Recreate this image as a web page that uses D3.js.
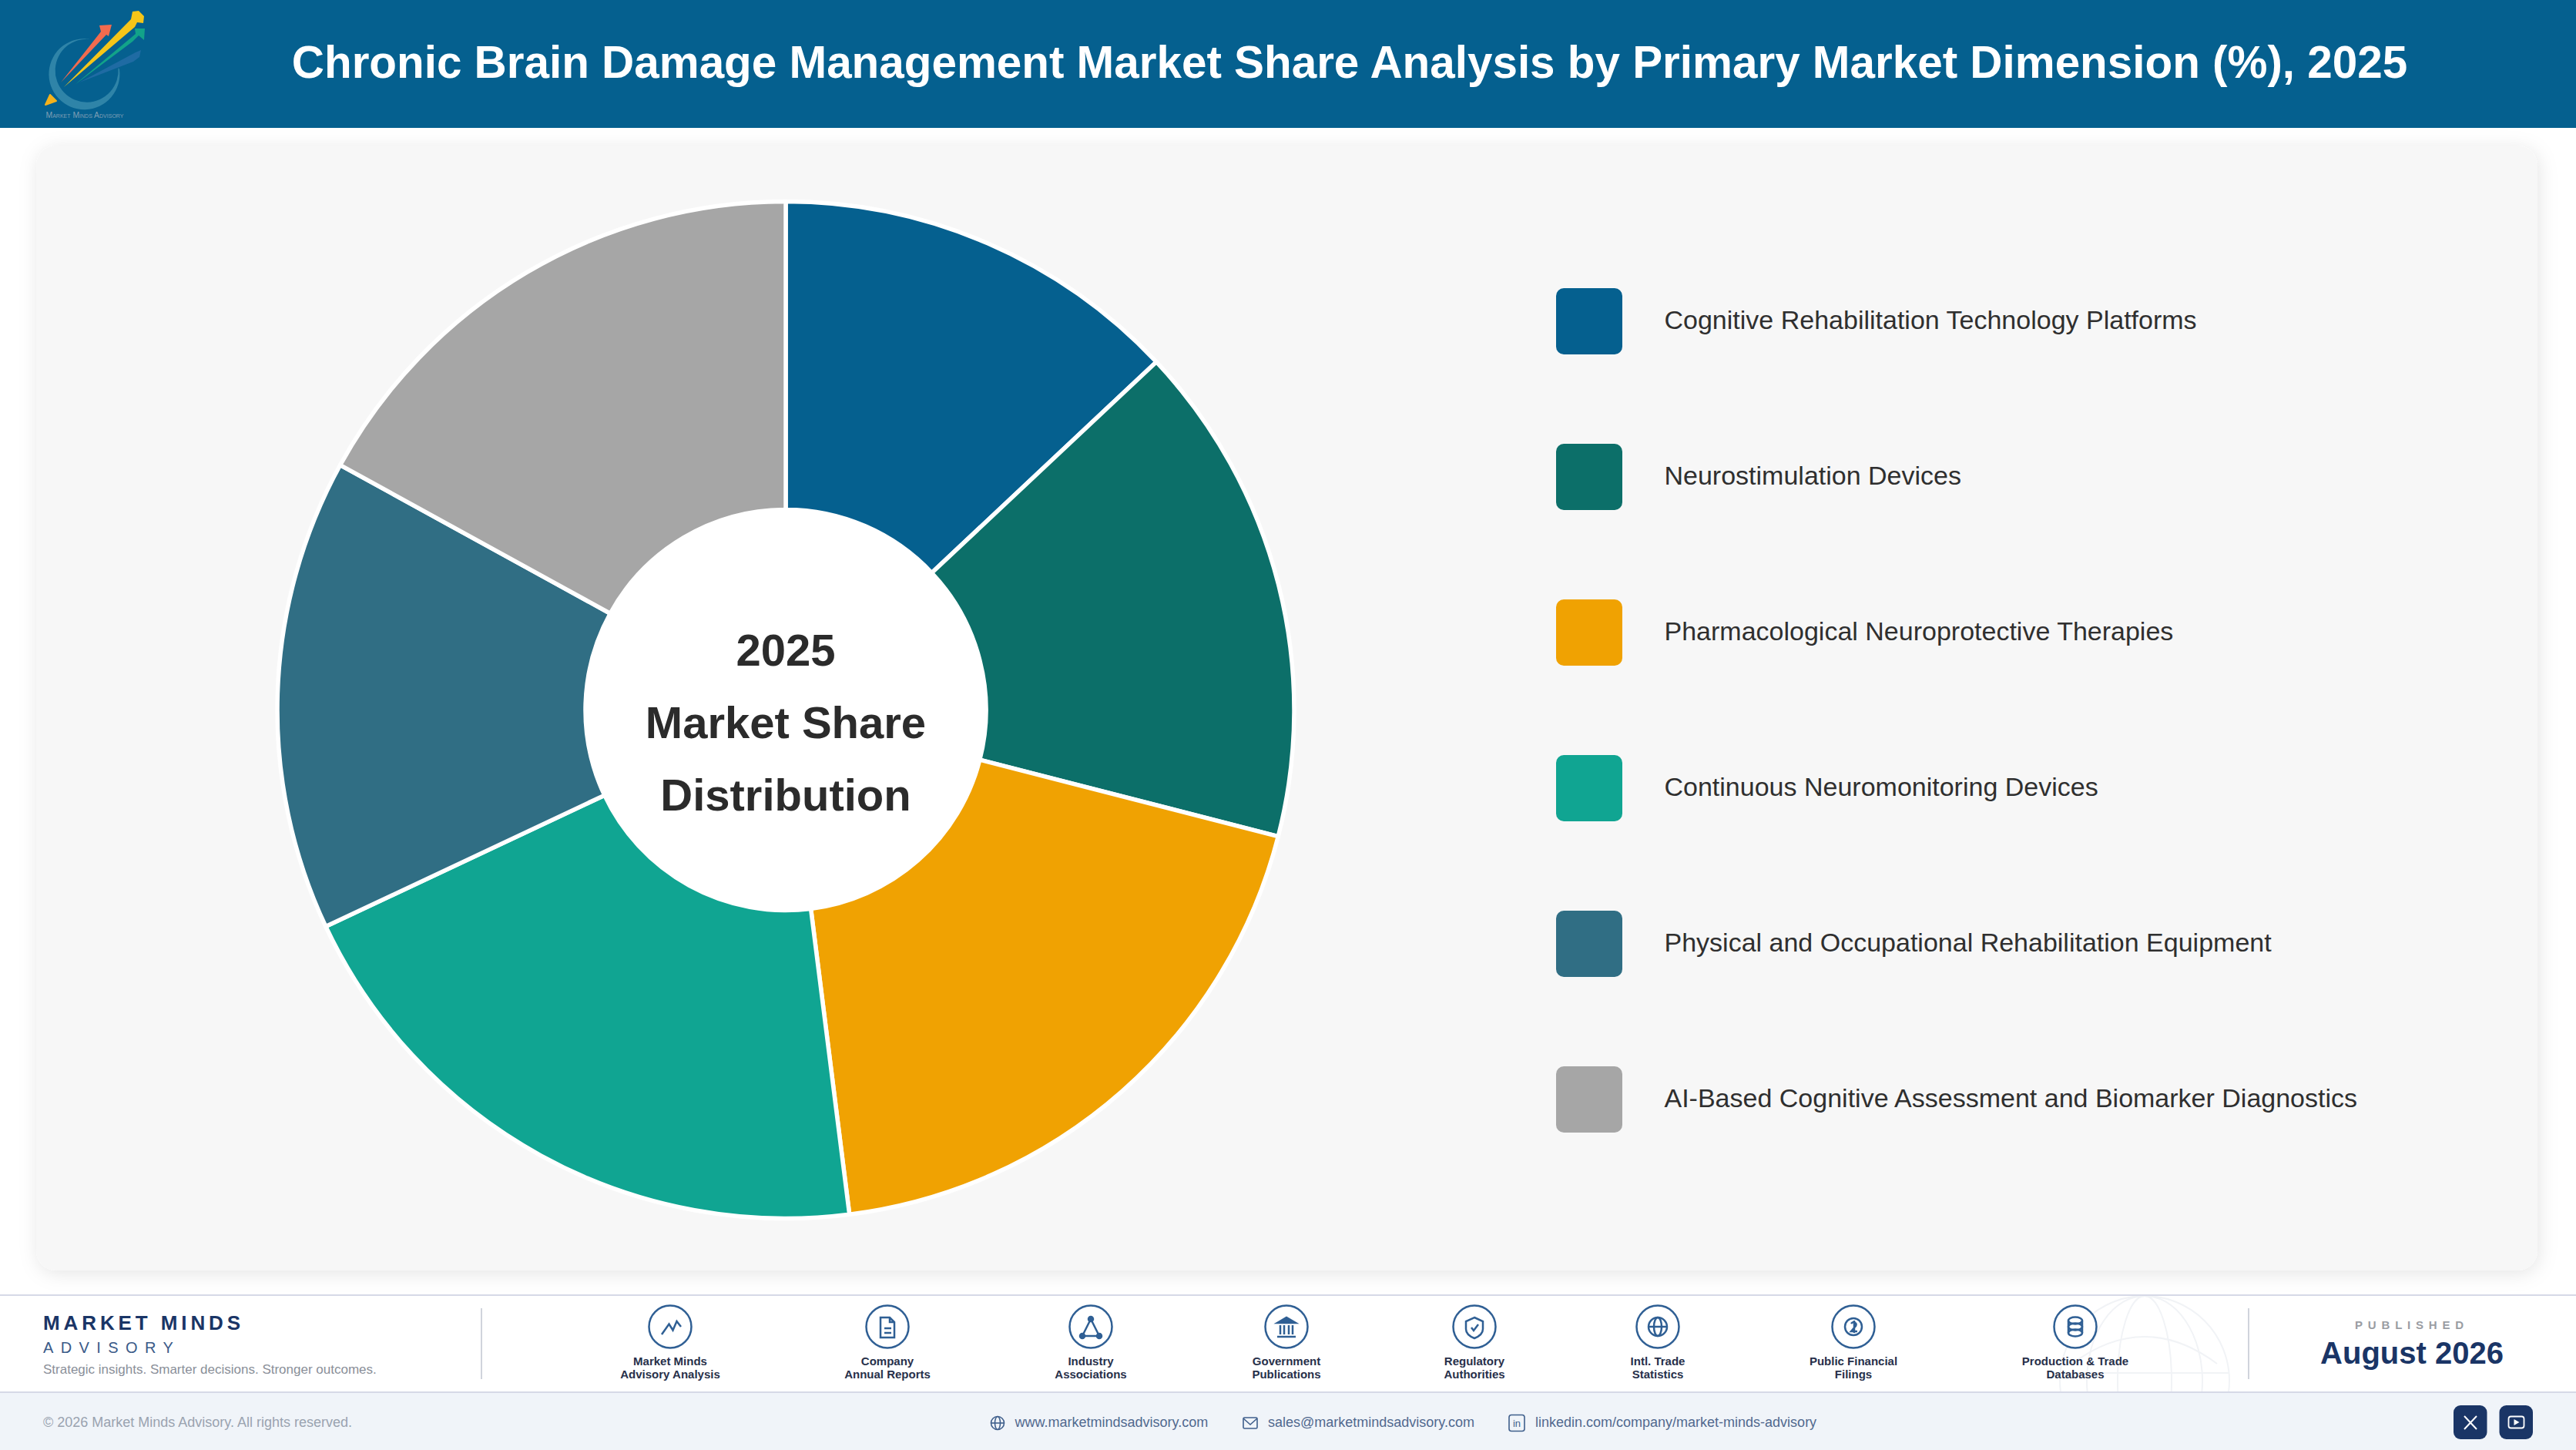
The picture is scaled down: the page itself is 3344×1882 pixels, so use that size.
<!DOCTYPE html>
<html>
<head>
<meta charset="utf-8">
<script src="https://cdnjs.cloudflare.com/ajax/libs/d3/7.8.5/d3.min.js"></script>
<style>
  html,body{margin:0;padding:0;background:#fff}
  svg{display:block}
  text{font-family:"Liberation Sans",Arial,sans-serif}
</style>
</head>
<body>
<div id="chart"></div>
<script>
const TITLE = 'Chronic Brain Damage Management Market Share Analysis by Primary Market Dimension (%), 2025';
const categories = [
  'Cognitive Rehabilitation Technology Platforms',
  'Neurostimulation Devices',
  'Pharmacological Neuroprotective Therapies',
  'Continuous Neuromonitoring Devices',
  'Physical and Occupational Rehabilitation Equipment',
  'AI-Based Cognitive Assessment and Biomarker Diagnostics'
];
const shares = [13, 16, 19, 20, 15, 17];
const sliceColors = ['#05608f', '#0c6f69', '#f0a202', '#10a592', '#306e84', '#a6a6a6'];
const centerLines = ['2025', 'Market Share', 'Distribution'];
const sourceLabels = [
  ['Market Minds', 'Advisory Analysis'], ['Company', 'Annual Reports'], ['Industry', 'Associations'],
  ['Government', 'Publications'], ['Regulatory', 'Authorities'], ['Intl. Trade', 'Statistics'],
  ['Public Financial', 'Filings'], ['Production & Trade', 'Databases']
];
const sourceX = [870, 1152, 1416, 1670, 1914, 2152, 2406, 2694];
const sourceIcons = ['spark', 'doc', 'tri', 'bank', 'shield', 'globe', 'coin', 'db'];

const W = 3344, H = 1882;
const NAVY = '#1a3566', ICON = '#2f5f94';
const svg = d3.select('#chart').append('svg').attr('width', W).attr('height', H).attr('viewBox', `0 0 ${W} ${H}`);

const defs = svg.append('defs');
const shadow = defs.append('filter').attr('id', 'card-shadow').attr('x', '-5%').attr('y', '-5%').attr('width', '110%').attr('height', '110%');
shadow.append('feDropShadow').attr('dx', 2).attr('dy', 4).attr('stdDeviation', 12).attr('flood-color', '#000').attr('flood-opacity', 0.1);
defs.append('clipPath').attr('id', 'foot-clip').append('rect').attr('x', 0).attr('y', 1682).attr('width', W).attr('height', 125);

// page header
svg.append('rect').attr('width', W).attr('height', 166).attr('fill', '#05608f');
svg.append('text').attr('x', 1752).attr('y', 101).attr('text-anchor', 'middle').attr('font-size', 58.4)
  .attr('font-weight', 700).attr('fill', '#fff').text(TITLE);

// logo
const logo = svg.append('g');
logo.append('path').attr('fill', '#2f84a8')
  .attr('d', 'M118 51 A46 46 0 1 0 155 90 L153.5 88 A41 41 0 1 1 118 51 Z');
logo.append('path').attr('fill', '#1f6ba3').attr('d', 'M103 107 L176 68 L183 65 L181 74 L173 80 Z');
logo.append('path').attr('fill', '#f26b4e').attr('d', 'M79 107 L131 41 L129 33 L145 32 L141 47 L138 45 Z');
logo.append('path').attr('fill', '#f5c518').attr('d', 'M83 113 L170 25 L172 15 L180 14 L187 21 L186 30 L178 29 L175 35 Z');
logo.append('path').attr('fill', '#12a389').attr('d', 'M97 110 L176 44 L175 37 L188 37 L187 52 L180 46 L172 54 Z');
logo.append('path').attr('fill', '#f5b21c').attr('stroke', '#f5b21c').attr('stroke-width', 2).attr('stroke-linejoin', 'round').attr('d', 'M59 136 L65 123 L73 131 Z');
logo.append('text').attr('x', 110).attr('y', 153).attr('text-anchor', 'middle').attr('font-size', 10.4)
  .style('font-variant', 'small-caps').attr('fill', '#7f9fb5').text('Market Minds Advisory');

// card
svg.append('rect').attr('x', 47).attr('y', 189).attr('width', 3247).attr('height', 1460).attr('rx', 26)
  .attr('fill', '#f7f7f7').attr('filter', 'url(#card-shadow)');

// donut
const cx = 1020, cy = 921.5, rOuter = 660, rInner = 260;
const pie = d3.pie().sort(null).value(d => d);
const arc = d3.arc().innerRadius(rInner).outerRadius(rOuter);
const donut = svg.append('g').attr('transform', `translate(${cx},${cy})`);
donut.selectAll('path').data(pie(shares)).join('path')
  .attr('d', arc).attr('fill', (d, i) => sliceColors[i]).attr('stroke', '#fff').attr('stroke-width', 5.5).attr('stroke-linejoin', 'round');
donut.append('circle').attr('r', rInner).attr('fill', '#fff');
const lineY = d3.scalePoint().domain(centerLines).range([864, 1052]);
svg.selectAll('text.center').data(centerLines).join('text').attr('class', 'center')
  .attr('x', cx).attr('y', d => lineY(d)).attr('text-anchor', 'middle').attr('font-size', 58)
  .attr('font-weight', 700).attr('fill', '#2b2b2b').text(d => d);

// legend
const legY = d3.scalePoint().domain(categories).range([417, 1427]);
const leg = svg.append('g').selectAll('g').data(categories).join('g').attr('transform', d => `translate(2020,${legY(d)})`);
leg.append('rect').attr('y', -43).attr('width', 86).attr('height', 86).attr('rx', 10).attr('fill', (d, i) => sliceColors[i]);
leg.append('text').attr('x', 140.5).attr('y', 10).attr('font-size', 34).attr('fill', '#2f2f2f').text(d => d);

// footer bands
const foot = svg.append('g');
foot.append('rect').attr('y', 1807).attr('width', W).attr('height', 75).attr('fill', '#f0f4f9');
const globeMark = foot.append('g').attr('clip-path', 'url(#foot-clip)').attr('fill', 'none').attr('stroke', '#f1f3f6').attr('stroke-width', 2);
globeMark.append('circle').attr('cx', 2784).attr('cy', 1792).attr('r', 110);
[35, 75].forEach(rx => globeMark.append('ellipse').attr('cx', 2784).attr('cy', 1792).attr('rx', rx).attr('ry', 110));
globeMark.append('line').attr('x1', 2674).attr('x2', 2894).attr('y1', 1782).attr('y2', 1782);
globeMark.append('path').attr('d', 'M2690 1770 Q2784 1700 2878 1770');
[1681, 1807].forEach(y => foot.append('line').attr('x1', 0).attr('x2', W).attr('y1', y).attr('y2', y).attr('stroke', '#d6d9e7').attr('stroke-width', 2));
[625, 2919].forEach(x => foot.append('line').attr('x1', x).attr('x2', x).attr('y1', 1698).attr('y2', 1790).attr('stroke', '#d0d4dc').attr('stroke-width', 2));

// brand block
foot.append('text').attr('x', 56).attr('y', 1726).attr('font-size', 26).attr('font-weight', 700).attr('letter-spacing', 4.9).attr('fill', NAVY).text('MARKET MINDS');
foot.append('text').attr('x', 56).attr('y', 1756).attr('font-size', 20).attr('letter-spacing', 9.4).attr('fill', '#3a5a88').text('ADVISORY');
foot.append('text').attr('x', 56).attr('y', 1783).attr('font-size', 17).attr('fill', '#8a8f99').text('Strategic insights. Smarter decisions. Stronger outcomes.');

// source icons, drawn around the middle of each circle
const glyphs = {
  spark: g => g.append('path').attr('d', 'M-11 10 L-1.5 -3.5 L3.5 4.5 L8.5 -7 L14 0'),
  doc: g => {
    g.append('path').attr('d', 'M-9 -12 H3 L9 -6 V14 H-9 Z M3 -12 V-6 H9');
    g.append('path').attr('d', 'M-4 2 H5 M-4 8 H5');
  },
  tri: g => {
    g.append('path').attr('d', 'M0 -10 L-11 12 H11 Z');
    [[0, -10], [-11, 12], [11, 12]].forEach(p => g.append('circle').attr('cx', p[0]).attr('cy', p[1]).attr('r', 3).attr('fill', ICON));
  },
  bank: g => {
    g.append('path').attr('d', 'M-12 -5 L0 -12 L12 -5 Z').attr('fill', ICON);
    g.append('path').attr('d', 'M-8 -2 V10 M-3 -2 V10 M3 -2 V10 M8 -2 V10 M-12 13 H12');
  },
  shield: g => {
    g.append('path').attr('d', 'M0 -12 L11 -7 V3 C11 9 5 13 0 15 C-5 13 -11 9 -11 3 V-7 Z');
    g.append('path').attr('d', 'M-4 1 L-1 5 L5 -3');
  },
  globe: g => {
    g.append('circle').attr('r', 12);
    g.append('ellipse').attr('rx', 5).attr('ry', 12);
    g.append('path').attr('d', 'M-12 0 H12');
  },
  coin: g => {
    g.append('circle').attr('r', 11);
    g.append('path').attr('d', 'M-3 -4 C0 -8 5 -5 3 -1 L-3 6 H5 M1 -8 V8');
  },
  db: g => {
    [-8, 0, 8].forEach(y => g.append('ellipse').attr('cy', y).attr('rx', 9).attr('ry', 4.5));
    g.append('path').attr('d', 'M-9 -8 V8 M9 -8 V8');
  }
};
const src = foot.append('g').selectAll('g').data(sourceLabels).join('g').attr('transform', (d, i) => `translate(${sourceX[i]},0)`);
src.append('circle').attr('cy', 1722).attr('r', 27.5).attr('fill', '#fff').attr('stroke', ICON).attr('stroke-width', 2.5);
src.append('g').attr('transform', 'translate(0,1722)').attr('fill', 'none').attr('stroke', ICON).attr('stroke-width', 2.5)
  .each(function(d, i) { glyphs[sourceIcons[i]](d3.select(this)); });
[1772, 1789].forEach((y, k) => src.append('text').attr('y', y).attr('text-anchor', 'middle').attr('font-size', 15)
  .attr('font-weight', 700).attr('fill', '#27304a').text(d => d[k]));

// published block
foot.append('text').attr('x', 3131).attr('y', 1725).attr('text-anchor', 'middle').attr('font-size', 15).attr('font-weight', 700).attr('letter-spacing', 6.8).attr('fill', '#9a9da3').text('PUBLISHED');
foot.append('text').attr('x', 3131).attr('y', 1770).attr('text-anchor', 'middle').attr('font-size', 40).attr('font-weight', 700).attr('fill', NAVY).text('August 2026');

// contact strip
foot.append('text').attr('x', 56).attr('y', 1852).attr('font-size', 18).attr('fill', '#9aa3b0').text('© 2026 Market Minds Advisory. All rights reserved.');
const contacts = [
  { x: 1317.5, text: 'www.marketmindsadvisory.com' },
  { x: 1646, text: 'sales@marketmindsadvisory.com' },
  { x: 1993, text: 'linkedin.com/company/market-minds-advisory' }
];
foot.selectAll('text.contact').data(contacts).join('text').attr('class', 'contact').attr('x', d => d.x).attr('y', 1852)
  .attr('font-size', 18).attr('fill', '#51698f').text(d => d.text);
const small = foot.append('g').attr('fill', 'none').attr('stroke', '#3f5f8c').attr('stroke-width', 1.6);
const g1 = small.append('g').attr('transform', 'translate(1295,1847)');
g1.append('circle').attr('r', 8.5); g1.append('ellipse').attr('rx', 3.5).attr('ry', 8.5); g1.append('path').attr('d', 'M-8.5 0 H8.5');
const g2 = small.append('g').attr('transform', 'translate(1623,1847)');
g2.append('rect').attr('x', -9).attr('y', -7).attr('width', 18).attr('height', 14).attr('rx', 1.5); g2.append('path').attr('d', 'M-9 -6 L0 2 L9 -6');
const g3 = small.append('g').attr('transform', 'translate(1969,1847)');
g3.append('rect').attr('x', -10).attr('y', -10.5).attr('width', 20).attr('height', 21).attr('rx', 3);
g3.append('text').attr('x', 0).attr('y', 5).attr('text-anchor', 'middle').attr('font-size', 13).attr('fill', '#3f5f8c').attr('stroke', 'none').text('in');

// social buttons
[3185, 3244.5].forEach(x => foot.append('rect').attr('x', x).attr('y', 1824).attr('width', 43.5).attr('height', 44).attr('rx', 9).attr('fill', NAVY));
foot.append('path').attr('d', 'M3199 1838 L3215 1855 M3215 1838 L3199 1855').attr('stroke', '#fff').attr('stroke-width', 2).attr('fill', 'none');
foot.append('rect').attr('x', 3256.5).attr('y', 1838.5).attr('width', 20).attr('height', 15).attr('rx', 3).attr('fill', 'none').attr('stroke', '#fff').attr('stroke-width', 1.8);
foot.append('path').attr('d', 'M3263.5 1842 L3270.5 1846 L3263.5 1850 Z').attr('fill', '#fff');
</script>
</body>
</html>
